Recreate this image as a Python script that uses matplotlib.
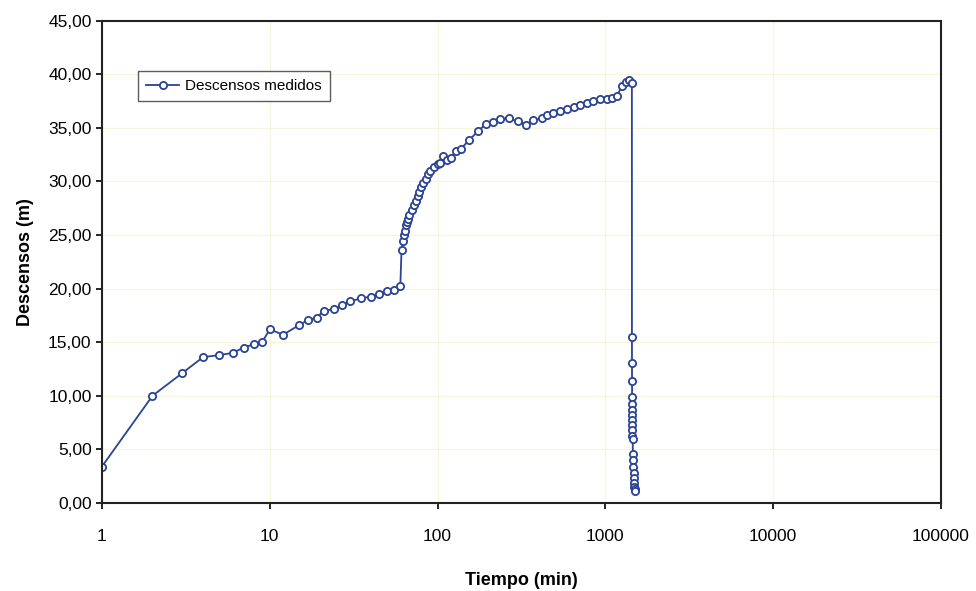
import numpy as np
import matplotlib.pyplot as plt

# tiempo (min) y descensos (m)
t_bombeo1 = [1, 2, 3, 4, 5, 6, 7, 8, 9, 10, 12, 15, 17, 19, 21, 24, 27, 30, 35, 40, 45, 50, 55, 60]
s_bombeo1 = [3.4, 10.0, 12.1, 13.6, 13.8, 14.0, 14.5, 14.8, 15.0, 16.2, 15.7, 16.6, 17.1, 17.3,
             17.9, 18.1, 18.45, 18.8, 19.1, 19.25, 19.5, 19.8, 19.9, 20.25]

t_bombeo2 = [61, 62, 63, 64, 65, 66, 67, 68, 70, 72, 74, 76, 78, 80, 82, 85, 88, 90, 95, 100,
             104, 108, 114, 120, 128, 138, 155, 175, 195, 215, 235, 265, 300, 335, 370, 420,
             450, 490, 540, 590, 650, 710, 780, 850, 930, 1020, 1100, 1170, 1260, 1320, 1380, 1440]
s_bombeo2 = [23.6, 24.4, 25.0, 25.4, 25.9, 26.2, 26.5, 26.9, 27.3, 27.8, 28.2, 28.6, 29.0, 29.5,
             29.85, 30.25, 30.7, 30.95, 31.35, 31.6, 31.75, 32.4, 32.0, 32.2, 32.8, 33.05, 33.9,
             34.7, 35.4, 35.55, 35.85, 35.9, 35.6, 35.3, 35.7, 35.9, 36.2, 36.4, 36.6, 36.8, 36.9,
             37.15, 37.35, 37.5, 37.65, 37.7, 37.8, 37.95, 38.95, 39.25, 39.5, 39.2]

t_recup = [1441, 1442, 1443, 1444, 1445, 1446, 1447, 1448, 1449, 1450, 1452, 1455, 1460, 1465,
           1470, 1475, 1480, 1485, 1490, 1495, 1500]
s_recup = [15.5, 13.1, 11.4, 9.85, 9.25, 8.7, 8.2, 7.75, 7.3, 6.8, 6.2, 6.0, 4.6, 4.0, 3.4,
           2.75, 2.3, 1.85, 1.5, 1.3, 1.15]

x_ticks = [1, 10, 100, 1000, 10000, 100000]
y_ticks = [0, 5, 10, 15, 20, 25, 30, 35, 40, 45]

tiempo = t_bombeo1 + t_bombeo2 + t_recup
descenso = s_bombeo1 + s_bombeo2 + s_recup

plt.rcParams['font.family'] = ['Liberation Sans Narrow', 'Liberation Sans', 'DejaVu Sans']

fig = plt.figure(figsize=(9.76, 5.91), dpi=100)
ax = fig.add_axes([0.1045, 0.149, 0.8595, 0.816])

azul = '#2a4394'
ax.plot(tiempo, descenso, color=azul, lw=1.3, marker='o', ms=5.2, mfc='white',
        mec=azul, mew=1.3, label='Descensos medidos')

ax.set_xscale('log')
ax.set_xlim(1, 100000)
ax.set_ylim(0, 45)
ax.set_xticks(x_ticks)
ax.set_xticklabels([str(v) for v in x_ticks])
ax.minorticks_off()
ax.set_yticks(y_ticks)
ax.set_yticklabels([f'{v:.2f}'.replace('.', ',') for v in y_ticks])
ax.tick_params(axis='both', labelsize=12.5, direction='out', length=4, width=1.2, colors='black')
ax.tick_params(axis='x', pad=15)

ax.grid(True, color='#f7f5de', lw=0.9)
ax.set_axisbelow(True)
for sp in ax.spines.values():
    sp.set_linewidth(1.5)
    sp.set_color('#222222')

ax.set_xlabel('Tiempo (min)', fontsize=13, fontweight='bold', labelpad=20)
ax.set_ylabel('Descensos (m)', fontsize=13, fontweight='bold', labelpad=10)

leg = ax.legend(loc='upper left', bbox_to_anchor=(0.043, 0.895), fontsize=11,
                frameon=True, fancybox=False, handlelength=2.2, borderpad=0.5,
                handletextpad=0.4, borderaxespad=0)
leg.get_frame().set_edgecolor('#333333')
leg.get_frame().set_linewidth(1.0)

fig.savefig('out.png', dpi=100)
